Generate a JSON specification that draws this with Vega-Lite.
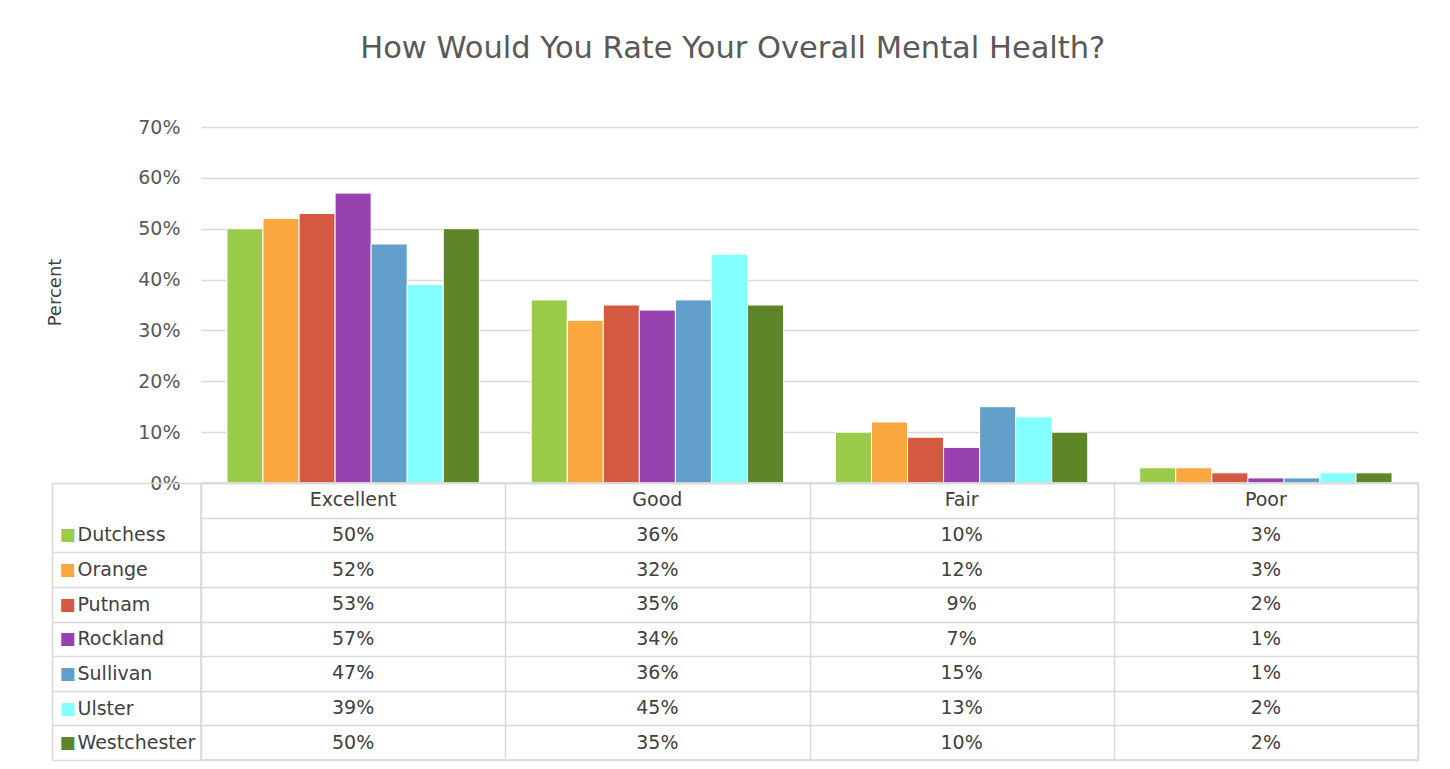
{
  "$schema": "https://vega.github.io/schema/vega-lite/v6.json",
  "background": "white",
  "padding": {"left": 46, "top": 33, "right": 30, "bottom": 0},
  "autosize": {"type": "pad"},
  "bounds": "flush",
  "title": {"text": "How Would You Rate Your Overall Mental Health?", "fontSize": 30.5, "font": "DejaVu Sans", "fontWeight": "normal", "color": "#595959", "offset": 54, "anchor": "middle"},
  "config": {
    "view": {"stroke": null},
    "font": "DejaVu Sans",
    "text": {"font": "DejaVu Sans"}
  },
  "data": {"values": [
    {"rating": "Excellent", "county": "Dutchess", "pct": 0.50},
    {"rating": "Excellent", "county": "Orange", "pct": 0.52},
    {"rating": "Excellent", "county": "Putnam", "pct": 0.53},
    {"rating": "Excellent", "county": "Rockland", "pct": 0.57},
    {"rating": "Excellent", "county": "Sullivan", "pct": 0.47},
    {"rating": "Excellent", "county": "Ulster", "pct": 0.39},
    {"rating": "Excellent", "county": "Westchester", "pct": 0.50},
    {"rating": "Good", "county": "Dutchess", "pct": 0.36},
    {"rating": "Good", "county": "Orange", "pct": 0.32},
    {"rating": "Good", "county": "Putnam", "pct": 0.35},
    {"rating": "Good", "county": "Rockland", "pct": 0.34},
    {"rating": "Good", "county": "Sullivan", "pct": 0.36},
    {"rating": "Good", "county": "Ulster", "pct": 0.45},
    {"rating": "Good", "county": "Westchester", "pct": 0.35},
    {"rating": "Fair", "county": "Dutchess", "pct": 0.10},
    {"rating": "Fair", "county": "Orange", "pct": 0.12},
    {"rating": "Fair", "county": "Putnam", "pct": 0.09},
    {"rating": "Fair", "county": "Rockland", "pct": 0.07},
    {"rating": "Fair", "county": "Sullivan", "pct": 0.15},
    {"rating": "Fair", "county": "Ulster", "pct": 0.13},
    {"rating": "Fair", "county": "Westchester", "pct": 0.10},
    {"rating": "Poor", "county": "Dutchess", "pct": 0.03},
    {"rating": "Poor", "county": "Orange", "pct": 0.03},
    {"rating": "Poor", "county": "Putnam", "pct": 0.02},
    {"rating": "Poor", "county": "Rockland", "pct": 0.01},
    {"rating": "Poor", "county": "Sullivan", "pct": 0.01},
    {"rating": "Poor", "county": "Ulster", "pct": 0.02},
    {"rating": "Poor", "county": "Westchester", "pct": 0.02}
  ]},
  "spacing": 0,
  "vconcat": [
    {
      "width": 1217,
      "height": 356,
      "mark": {"type": "bar", "stroke": "white", "strokeWidth": 1},
      "encoding": {
        "x": {"field": "rating", "type": "nominal", "sort": ["Excellent", "Good", "Fair", "Poor"], "scale": {"paddingInner": 0, "paddingOuter": 0}, "axis": null},
        "xOffset": {"field": "county", "type": "nominal", "sort": ["Dutchess", "Orange", "Putnam", "Rockland", "Sullivan", "Ulster", "Westchester"], "scale": {"paddingInner": 0, "paddingOuter": 0.72}},
        "y": {"field": "pct", "type": "quantitative", "scale": {"domain": [0, 0.7]},
          "axis": {"format": ".0%", "values": [0, 0.1, 0.2, 0.3, 0.4, 0.5, 0.6, 0.7], "title": "Percent", "grid": true, "gridColor": "#d9d9d9", "gridWidth": 1.5, "domain": false, "ticks": false, "labelPadding": 21, "labelFontSize": 19, "labelColor": "#595959", "labelFont": "DejaVu Sans", "titleFont": "DejaVu Sans", "titleFontSize": 18, "titleFontWeight": "normal", "titleColor": "#404040", "titlePadding": 73, "titleY": 165}},
        "color": {"field": "county", "type": "nominal",
          "scale": {"domain": ["Dutchess", "Orange", "Putnam", "Rockland", "Sullivan", "Ulster", "Westchester"], "range": ["#9BCB4B", "#F9A73E", "#D35A40", "#9841B0", "#629FCB", "#83FFFF", "#5E8528"]},
          "legend": null}
      }
    },
    {
      "width": 1217,
      "height": 277,
      "view": {"stroke": "#d9d9d9", "strokeWidth": 1.5},
      "resolve": {"scale": {"y": "independent"}},
      "layer": [
        {
          "mark": {"type": "text", "fontSize": 19, "font": "DejaVu Sans", "color": "#404040"},
          "encoding": {
            "x": {"field": "rating", "type": "nominal", "sort": ["Excellent", "Good", "Fair", "Poor"], "scale": {"paddingInner": 0, "paddingOuter": 0},
              "axis": {"tickBand": "extent", "grid": true, "gridColor": "#d9d9d9", "gridWidth": 1.5, "labels": false, "ticks": false, "domain": false, "title": null}},
            "y": {"field": "county", "type": "nominal", "scale": {"domain": ["hdr", "Dutchess", "Orange", "Putnam", "Rockland", "Sullivan", "Ulster", "Westchester"], "paddingInner": 0, "paddingOuter": 0},
              "axis": {"orient": "left", "tickBand": "extent", "grid": true, "gridColor": "#d9d9d9", "gridWidth": 1.5, "ticks": true, "tickSize": 149, "tickColor": {"condition": {"test": "datum.value == 'hdr'", "value": "rgba(0,0,0,0)"}, "value": "#d9d9d9"}, "tickWidth": 1.5, "domain": false, "labelAlign": "left", "labelPadding": -25, "labelFontSize": 19, "labelColor": "#404040", "labelFont": "DejaVu Sans", "labelOverlap": false, "labelExpr": "datum.value == 'hdr' ? '' : datum.value", "title": null}},
            "text": {"field": "pct", "type": "quantitative", "format": ".0%"}
          }
        },
        {
          "transform": [{"aggregate": [{"op": "count", "as": "n"}], "groupby": ["rating"]}],
          "mark": {"type": "text", "fontSize": 19, "font": "DejaVu Sans", "color": "#404040"},
          "encoding": {
            "x": {"field": "rating", "type": "nominal", "sort": ["Excellent", "Good", "Fair", "Poor"]},
            "y": {"datum": "hdr", "type": "nominal", "scale": {"domain": ["hdr", "Dutchess", "Orange", "Putnam", "Rockland", "Sullivan", "Ulster", "Westchester"], "paddingInner": 0, "paddingOuter": 0}, "axis": null},
            "text": {"field": "rating", "type": "nominal"}
          }
        },
        {
          "mark": {"type": "text", "opacity": 0},
          "encoding": {
            "x": {"field": "rating", "type": "nominal", "sort": ["Excellent", "Good", "Fair", "Poor"]},
            "y": {"field": "county", "type": "nominal", "scale": {"domain": ["hdr", "Dutchess", "Orange", "Putnam", "Rockland", "Sullivan", "Ulster", "Westchester"], "paddingInner": 0, "paddingOuter": 0},
              "axis": {"orient": "left", "offset": 149, "ticks": false, "grid": false, "domain": true, "domainColor": "#d9d9d9", "domainWidth": 1.5, "labelAlign": "left", "labelPadding": -7, "labelFontSize": 17, "labelOverlap": false, "labelFont": "DejaVu Sans", "labelExpr": "datum.value == 'hdr' ? '' : '\u25a0'", "title": null,
                "labelColor": {"condition": [
                  {"test": "datum.value == 'Dutchess'", "value": "#9BCB4B"},
                  {"test": "datum.value == 'Orange'", "value": "#F9A73E"},
                  {"test": "datum.value == 'Putnam'", "value": "#D35A40"},
                  {"test": "datum.value == 'Rockland'", "value": "#9841B0"},
                  {"test": "datum.value == 'Sullivan'", "value": "#629FCB"},
                  {"test": "datum.value == 'Ulster'", "value": "#83FFFF"}
                ], "value": "#5E8528"}}},
            "text": {"value": ""}
          }
        }
      ]
    }
  ]
}
